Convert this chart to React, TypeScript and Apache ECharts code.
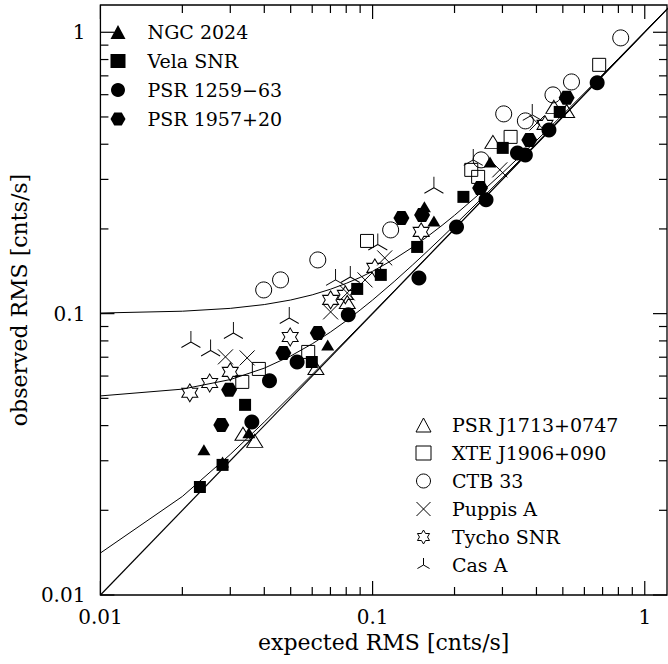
import React, { useEffect, useRef } from 'react';
import * as echarts from 'echarts';

// ---- data (expected RMS, observed RMS) ----
const ngc2024 = [[0.024, 0.0328], [0.0281, 0.0297], [0.0351, 0.0377], [0.0684, 0.0774], [0.155, 0.24], [0.168, 0.2135], [0.27, 0.346]];
const velaSnr = [[0.0232, 0.0242], [0.0281, 0.029], [0.034, 0.0474], [0.0598, 0.0673], [0.0878, 0.1224], [0.1072, 0.1373], [0.1458, 0.1726], [0.2156, 0.26], [0.3007, 0.3882], [0.487, 0.521]];
const psr1259 = [[0.036, 0.0412], [0.0418, 0.0577], [0.0528, 0.0673], [0.0814, 0.099], [0.148, 0.1339], [0.2034, 0.2033], [0.2611, 0.2537], [0.3407, 0.3726], [0.3642, 0.3666], [0.4446, 0.4498], [0.6685, 0.661]];
const psr1957 = [[0.0278, 0.0402], [0.0297, 0.0536], [0.047, 0.0725], [0.0629, 0.0854], [0.1276, 0.2189], [0.152, 0.2243], [0.2483, 0.2798], [0.3765, 0.4145], [0.5164, 0.5846]];
const psrJ1713 = [[0.0334, 0.0374], [0.0369, 0.0353], [0.0619, 0.0641], [0.0807, 0.11], [0.2767, 0.4077], [0.4636, 0.5431], [0.5164, 0.525]];
const xteJ1906 = [[0.0332, 0.0572], [0.0382, 0.0636], [0.058, 0.0731], [0.0954, 0.1813], [0.2304, 0.3243], [0.2442, 0.3062], [0.3214, 0.4248], [0.68, 0.766]];
const ctb33 = [[0.0398, 0.1214], [0.0459, 0.1318], [0.0629, 0.1552], [0.1165, 0.1984], [0.2504, 0.3519], [0.3032, 0.5128], [0.3642, 0.4842], [0.46, 0.599], [0.538, 0.666], [0.816, 0.955]];
const puppisA = [[0.0288, 0.0702], [0.0346, 0.0696], [0.0701, 0.1014], [0.0807, 0.1185], [0.0938, 0.1318], [0.1108, 0.1578], [0.2933, 0.3243], [0.4024, 0.4764]];
const tychoSnr = [[0.0213, 0.0523], [0.0252, 0.0567], [0.03, 0.0621], [0.0498, 0.0826], [0.0701, 0.1119], [0.0794, 0.1166], [0.1019, 0.1454], [0.1508, 0.1952], [0.43, 0.4687]];
const casA = [[0.0215, 0.0793], [0.0254, 0.074], [0.0308, 0.0854], [0.0494, 0.0965], [0.0731, 0.1318], [0.0828, 0.135], [0.1045, 0.176], [0.168, 0.28], [0.2343, 0.3519], [0.386, 0.5086]];

// model curves
const curveX = [0.01, 0.02, 0.03, 0.04, 0.05, 0.06, 0.07, 0.08, 0.09, 0.1, 0.12, 0.14, 0.16, 0.18, 0.2, 0.25, 0.3, 0.4, 0.5, 0.6, 0.8, 1.0, 1.3];
const curveHighY = [0.1005, 0.102, 0.1044, 0.1077, 0.1118, 0.1166, 0.1221, 0.1281, 0.1345, 0.1414, 0.1562, 0.172, 0.1887, 0.2059, 0.2236, 0.2693, 0.3162, 0.4123, 0.5099, 0.6083, 0.8062, 1.005, 1.3038];
const curveMidY = [0.051, 0.0539, 0.0583, 0.064, 0.0707, 0.0781, 0.086, 0.0943, 0.103, 0.1118, 0.13, 0.1487, 0.1676, 0.1868, 0.2062, 0.255, 0.3041, 0.4031, 0.5025, 0.6021, 0.8016, 1.0012, 1.301];
const curveLowY = [0.0141, 0.0224, 0.0316, 0.0412, 0.051, 0.0608, 0.0707, 0.0806, 0.0906, 0.1005, 0.1204, 0.1404, 0.1603, 0.1803, 0.2002, 0.2502, 0.3002, 0.4001, 0.5001, 0.6001, 0.8001, 1.0, 1.3];
const diagX = [0.01, 1.3];
const diagY = [0.01, 1.3];

// axis tick values
const tickValues = [0.01, 0.02, 0.03, 0.04, 0.05, 0.06, 0.07, 0.08, 0.09, 0.1, 0.2, 0.3, 0.4, 0.5, 0.6, 0.7, 0.8, 0.9, 1];
const xMin = 0.01;
const xMax = 1.207;
const yMin = 0.01;
const yMax = 1.25;

const legendTop = ['NGC 2024', 'Vela SNR', 'PSR 1259\u221263', 'PSR 1957+20'];
const legendBottom = ['PSR J1713+0747', 'XTE J1906+090', 'CTB 33', 'Puppis A', 'Tycho SNR', 'Cas A'];

const FONT = 'DejaVu Serif';

const HEX = 'path://M-10,0L-5,-8.66L5,-8.66L10,0L5,8.66L-5,8.66Z';
const CROSS = 'path://M-10,-10L10,10M-10,10L10,-10';
const STAR = 'path://M0,-10L2.887,-5L8.66,-5L5.774,0L8.66,5L2.887,5L0,10L-2.887,5L-8.66,5L-5.774,0L-8.66,-5L-2.887,-5Z';
const TRIPOD = 'path://M0,0L0,-10M0,0L-8.66,5M0,0L8.66,5M0,10';

const isDecade = (v: number) => Math.abs(Math.log10(v) - Math.round(Math.log10(v))) < 1e-6;

export default function App() {
  const ref = useRef<HTMLDivElement>(null);
  useEffect(() => {
    if (!ref.current) return;
    const chart = echarts.init(ref.current, null, { renderer: 'svg' });
    const filled = { color: '#000', opacity: 1 };
    const open = { color: 'rgba(0,0,0,0)', borderColor: '#000', borderWidth: 1, opacity: 1 };
    const zip = (xs: number[], ys: number[]) => xs.map((x, i) => [x, ys[i]]);
    const lineSeries = (data: number[][], width: number) => ({
      type: 'line',
      data,
      showSymbol: false,
      symbol: 'none',
      silent: true,
      lineStyle: { color: '#000', width, opacity: 1 },
      z: 1,
    });
    const labelFmt = (v: number) => (isDecade(v) ? String(+v.toPrecision(3)) : '');
    const option: any = {
      animation: false,
      backgroundColor: '#fff',
      grid: { left: 91, top: 5, width: 576, height: 590, show: true, borderColor: '#000', borderWidth: 1.3, backgroundColor: 'transparent' },
      xAxis: {
        type: 'log', logBase: 10, min: xMin, max: xMax,
        axisLine: { show: false }, axisTick: { show: false }, splitLine: { show: false },
        axisLabel: { formatter: labelFmt, margin: 12, fontFamily: FONT, fontSize: 20, color: '#000', showMaxLabel: false },
        name: 'expected RMS [cnts/s]', nameLocation: 'middle', nameGap: 35,
        nameTextStyle: { fontFamily: FONT, fontSize: 22, color: '#000' },
      },
      yAxis: {
        type: 'log', logBase: 10, min: yMin, max: yMax,
        axisLine: { show: false }, axisTick: { show: false }, splitLine: { show: false },
        axisLabel: { formatter: labelFmt, margin: 15, fontFamily: FONT, fontSize: 20, color: '#000', showMaxLabel: false },
        name: 'observed RMS [cnts/s]', nameLocation: 'middle', nameGap: 54,
        nameTextStyle: { fontFamily: FONT, fontSize: 22, color: '#000' },
      },
      legend: [
        {
          orient: 'vertical', left: 110.5, top: 17.5, padding: 0, itemGap: 0, itemWidth: 15, itemHeight: 14,
          data: legendTop, selectedMode: false, itemStyle: { borderWidth: 1 },
          textStyle: { fontFamily: FONT, fontSize: 19, lineHeight: 16, color: '#000', padding: [0, 0, 13, 17] },
        },
        {
          orient: 'vertical', left: 415.5, top: 410.5, padding: 0, itemGap: -1, itemWidth: 15, itemHeight: 14,
          data: legendBottom, selectedMode: false, itemStyle: { borderWidth: 1 },
          textStyle: { fontFamily: FONT, fontSize: 19, lineHeight: 16, color: '#000', padding: [0, 0, 13, 16] },
        },
      ],
      series: [
        lineSeries(zip(diagX, diagY), 1.2),
        lineSeries(zip(curveX, curveLowY), 1),
        lineSeries(zip(curveX, curveMidY), 1),
        lineSeries(zip(curveX, curveHighY), 1),
        {
          type: 'custom', silent: true, z: 5,
          data: tickValues.map((v) => [v, 0.1, isDecade(v) ? 14 : 8]),
          encode: { x: 0, y: 1 },
          renderItem: (params: any, api: any) => {
            const cs = params.coordSys;
            const x = api.coord([api.value(0), 0.1])[0];
            const len = api.value(2);
            const st = { stroke: '#000', lineWidth: 1.2 };
            return {
              type: 'group',
              children: [
                { type: 'line', shape: { x1: x, y1: cs.y + cs.height, x2: x, y2: cs.y + cs.height - len }, style: st },
                { type: 'line', shape: { x1: x, y1: cs.y, x2: x, y2: cs.y + len }, style: st },
              ],
            };
          },
        },
        {
          type: 'custom', silent: true, z: 5,
          data: tickValues.map((v) => [0.1, v, isDecade(v) ? 14 : 8]),
          encode: { x: 0, y: 1 },
          renderItem: (params: any, api: any) => {
            const cs = params.coordSys;
            const y = api.coord([0.1, api.value(1)])[1];
            const len = api.value(2);
            const st = { stroke: '#000', lineWidth: 1.2 };
            return {
              type: 'group',
              children: [
                { type: 'line', shape: { x1: cs.x, y1: y, x2: cs.x + len, y2: y }, style: st },
                { type: 'line', shape: { x1: cs.x + cs.width, y1: y, x2: cs.x + cs.width - len, y2: y }, style: st },
              ],
            };
          },
        },
        { type: 'scatter', name: 'NGC 2024', data: ngc2024, symbol: 'triangle', symbolSize: [13, 11], itemStyle: filled, z: 3 },
        { type: 'scatter', name: 'Vela SNR', data: velaSnr, symbol: 'rect', symbolSize: 12, itemStyle: filled, z: 3 },
        { type: 'scatter', name: 'PSR 1259\u221263', data: psr1259, symbol: 'circle', symbolSize: 15, itemStyle: filled, z: 3 },
        { type: 'scatter', name: 'PSR 1957+20', data: psr1957, symbol: HEX, symbolSize: [16, 14], itemStyle: filled, z: 3 },
        { type: 'scatter', name: 'PSR J1713+0747', data: psrJ1713, symbol: 'triangle', symbolSize: [16, 13], itemStyle: open, z: 3 },
        { type: 'scatter', name: 'XTE J1906+090', data: xteJ1906, symbol: 'rect', symbolSize: 13, itemStyle: open, z: 3 },
        { type: 'scatter', name: 'CTB 33', data: ctb33, symbol: 'circle', symbolSize: 16, itemStyle: open, z: 3 },
        { type: 'scatter', name: 'Puppis A', data: puppisA, symbol: CROSS, symbolSize: 15, itemStyle: open, z: 3 },
        { type: 'scatter', name: 'Tycho SNR', data: tychoSnr, symbol: STAR, symbolSize: [16, 18], itemStyle: open, z: 3 },
        { type: 'scatter', name: 'Cas A', data: casA, symbol: TRIPOD, symbolSize: [19, 22], itemStyle: open, z: 3 },
      ],
    };
    chart.setOption(option);
    return () => chart.dispose();
  }, []);
  return <div ref={ref} style={{ position: 'absolute', left: 0, top: 0, width: 668, height: 664, background: '#fff' }} />;
}
